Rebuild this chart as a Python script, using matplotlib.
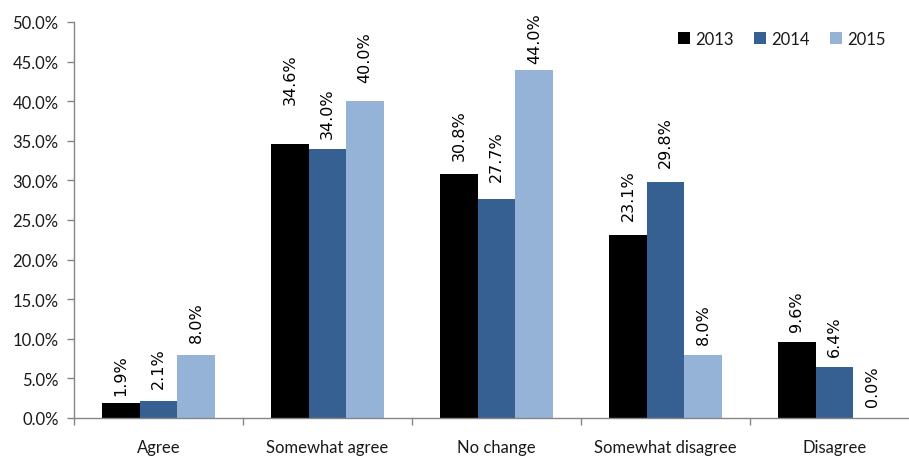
import matplotlib.pyplot as plt
import numpy as np
from matplotlib.ticker import FuncFormatter, FixedLocator

categories = ['Agree', 'Somewhat agree', 'No change', 'Somewhat disagree', 'Disagree']
years = ['2013', '2014', '2015']
vals_2013 = [1.9, 34.6, 30.8, 23.1, 9.6]
vals_2014 = [2.1, 34.0, 27.7, 29.8, 6.4]
vals_2015 = [8.0, 40.0, 44.0, 8.0, 0.0]
colors = ['#000000', '#376092', '#95b3d7']

# gap (pixels) between each bar top and its value label, per year
label_pad = [
    [8, 40, 14, 15, 11],
    [13, 11, 18, 15, 11],
    [13, 19, 7, 11, 12],
]

fig = plt.figure(figsize=(9.09, 4.6), dpi=100)
ax = fig.add_axes([74 / 909, 41 / 460, 835 / 909, 396 / 460])

x = np.arange(len(categories))
w = 0.223
for k, (vals, yr) in enumerate(zip([vals_2013, vals_2014, vals_2015], years)):
    pos = x + (k - 1) * w
    bars = ax.bar(pos, vals, width=w, color=colors[k], label=yr, linewidth=0)
    for b, v, pad in zip(bars, vals, label_pad[k]):
        ax.annotate(f'{v:.1f}%', (b.get_x() + b.get_width() / 2, v),
                    xytext=(0, pad * 0.72), textcoords='offset points',
                    rotation=90, ha='center', va='bottom',
                    fontsize=11.5, family='DejaVu Sans', color='#000000')

ax.set_ylim(0, 50)
ax.set_xlim(-0.5, 4.44)
ax.set_yticks(np.arange(0, 50.1, 5))
ax.yaxis.set_major_formatter(FuncFormatter(lambda v, p: f'{v:.1f}%'))

# category names centred, tick marks between the groups
ax.set_xticks(x)
ax.set_xticklabels(categories)
ax.xaxis.set_minor_locator(FixedLocator(np.arange(-0.5, 4.6, 1)))
ax.tick_params(axis='x', which='major', length=0, pad=15)
ax.tick_params(axis='x', which='minor', length=5, color='#868686', width=1)
ax.tick_params(axis='y', length=5, color='#868686', width=1, pad=6)

for lab in ax.get_xticklabels() + ax.get_yticklabels():
    lab.set_family('Lato')
    lab.set_fontsize(12)
    lab.set_color('#1a1a1a')

for s in ['top', 'right']:
    ax.spines[s].set_visible(False)
for s in ['left', 'bottom']:
    ax.spines[s].set_color('#868686')
    ax.spines[s].set_linewidth(1)

leg = ax.legend(loc='upper right', bbox_to_anchor=(0.99, 1.015), ncol=3, frameon=False,
                handlelength=0.75, handleheight=0.75, handletextpad=0.3,
                columnspacing=1.2, prop={'family': 'Lato', 'size': 12})
for t in leg.get_texts():
    t.set_color('#1a1a1a')

fig.savefig('out.png', dpi=100)
